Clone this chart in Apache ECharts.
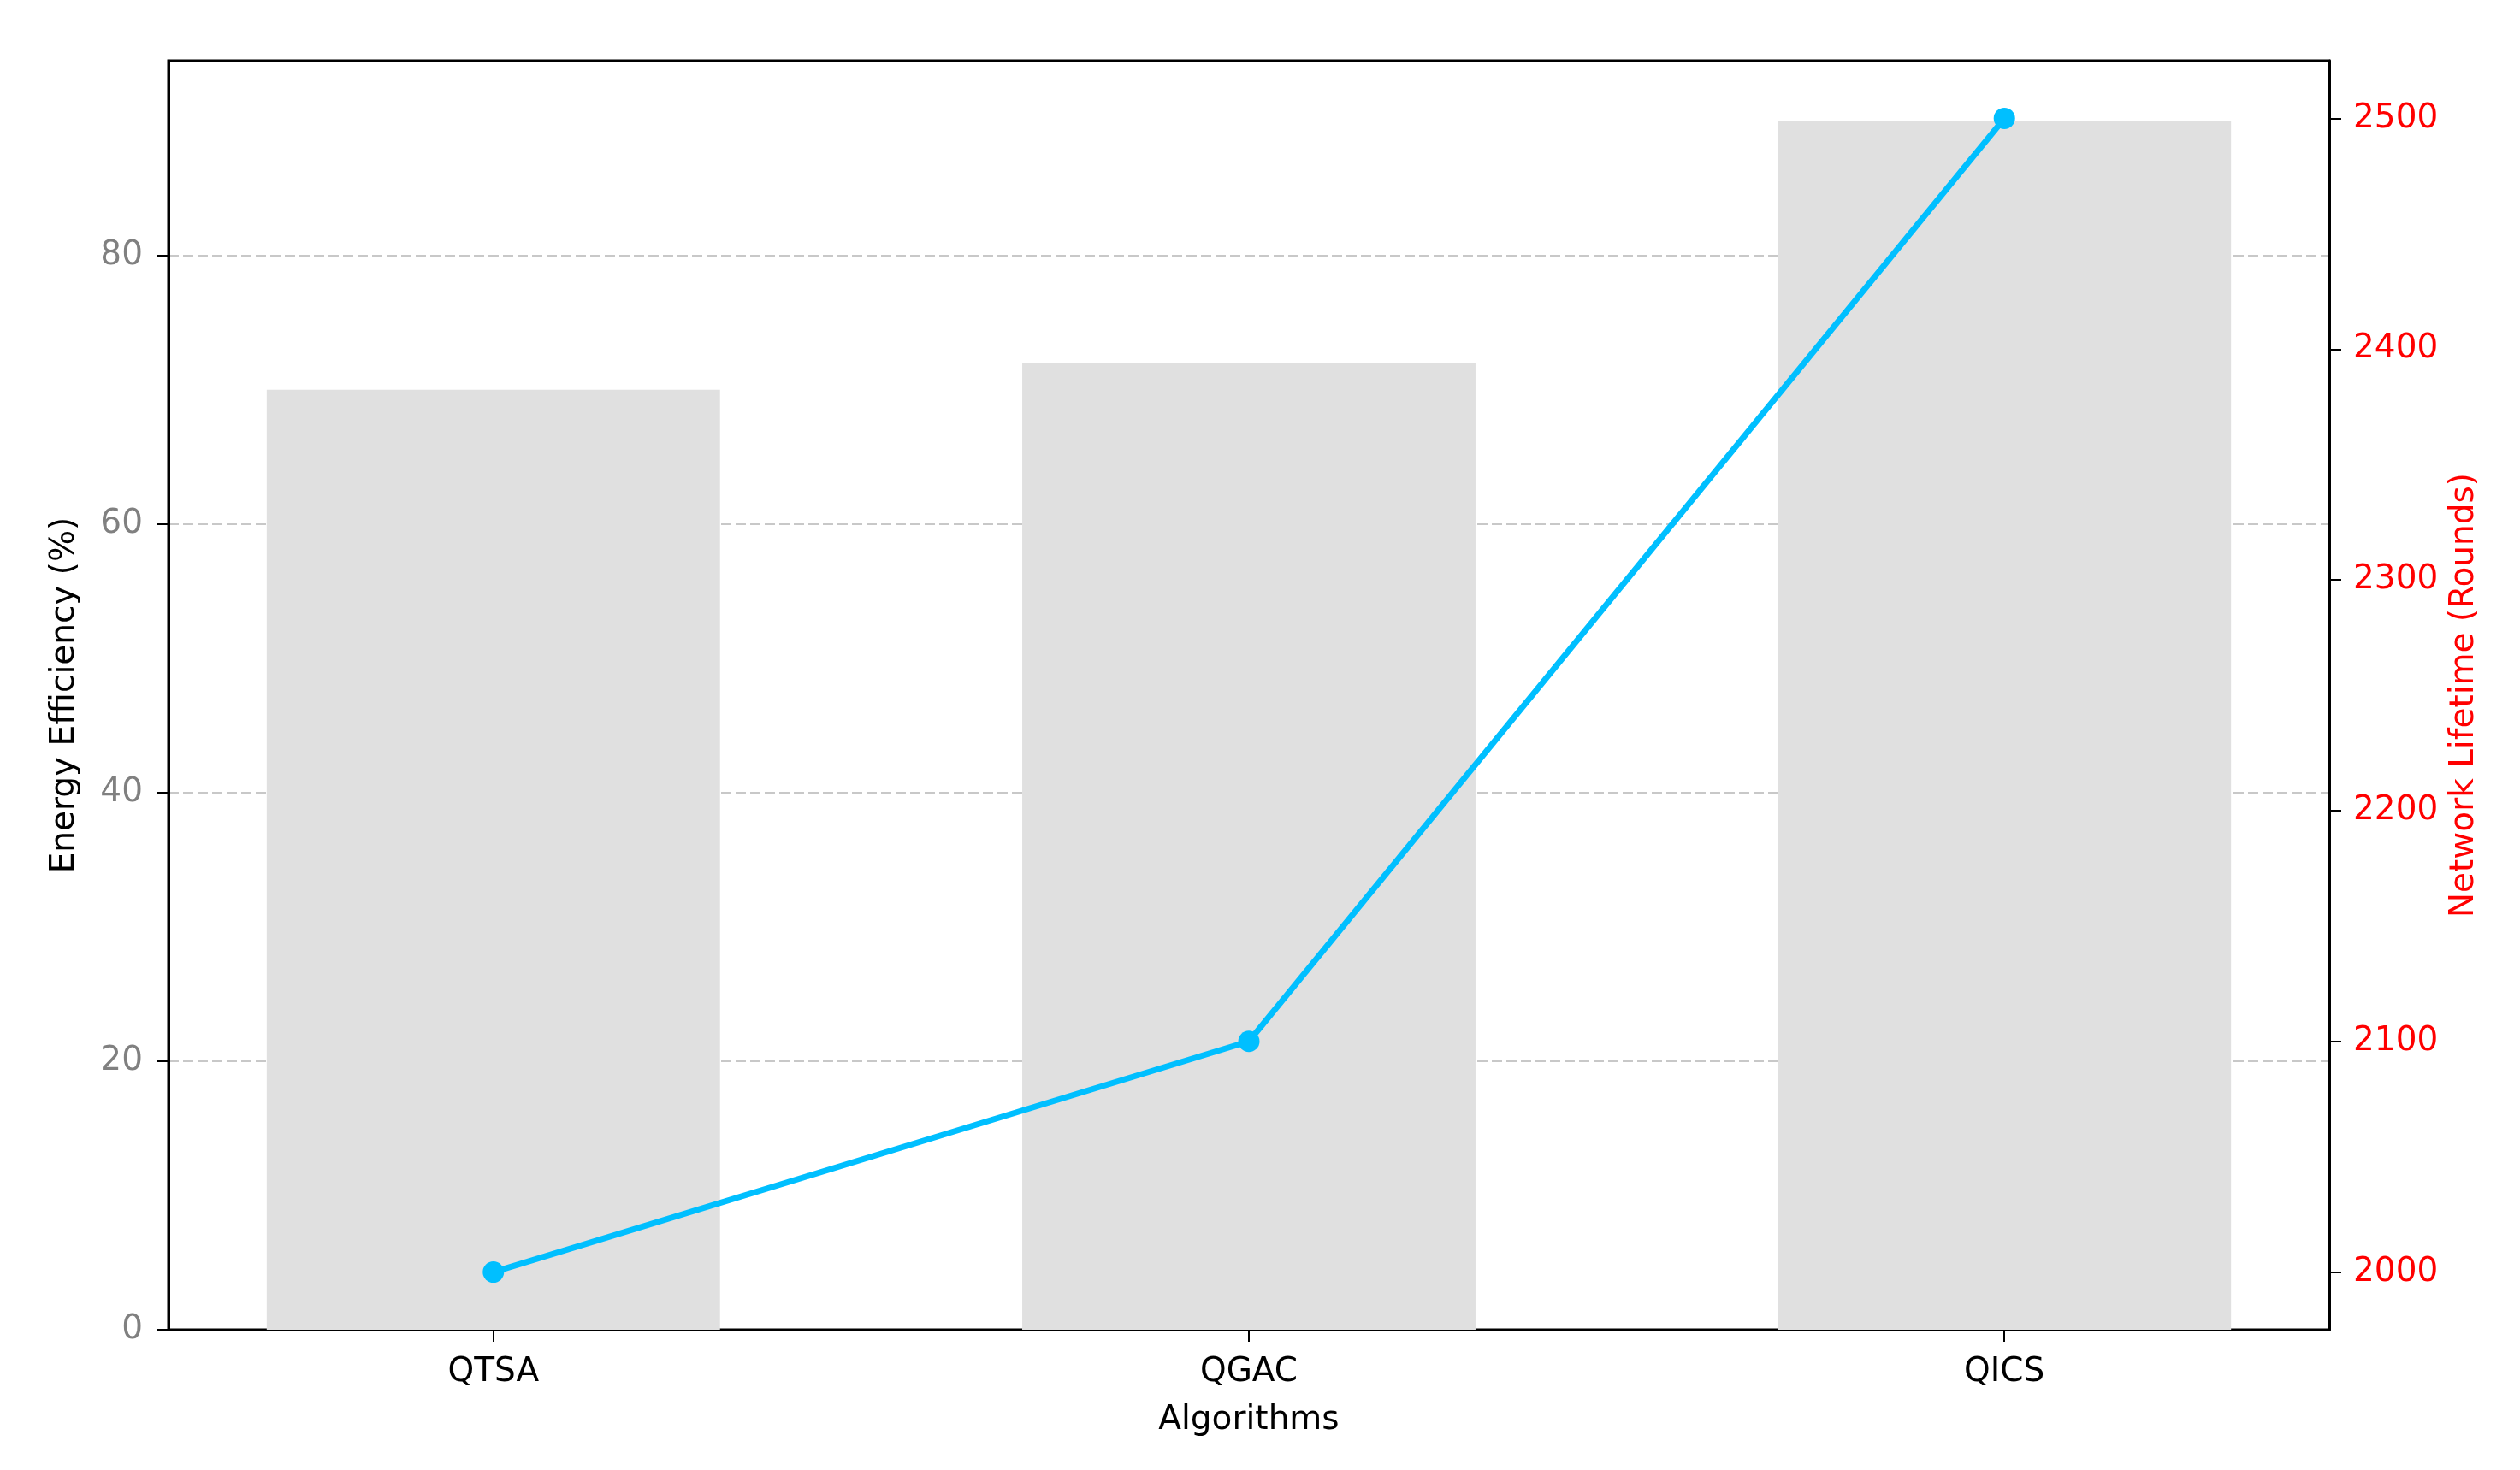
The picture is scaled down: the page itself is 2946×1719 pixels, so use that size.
<!DOCTYPE html>
<html>
<head>
<meta charset="utf-8">
<script src="https://cdn.jsdelivr.net/npm/echarts@6/dist/echarts.min.js"></script>
<style>
  html, body { margin: 0; padding: 0; background: #fff; }
  #main { width: 2946px; height: 1719px; }
</style>
</head>
<body>
<div id="main"></div>
<script>
// data
var algorithms = ['QTSA', 'QGAC', 'QICS'];
var efficiency = [70, 72, 90];          // Energy Efficiency (%)
var lifetime = [2000, 2100, 2500];      // Network Lifetime (Rounds)
var effTicks = [0, 20, 40, 60, 80];
var lifeTicks = [2000, 2100, 2200, 2300, 2400, 2500];

var W = 2946, H = 1719;
var gridLeft = 197, gridRight = 223, gridTop = 71, gridBottom = 164;
var xMin = -0.43, xMax = 2.43;
var unitPx = (W - gridLeft - gridRight) / (xMax - xMin);

var font = 'DejaVu Sans';
var fs = 39;

var myChart = echarts.init(document.getElementById('main'), null, { renderer: 'canvas' });

myChart.setOption({
  animation: false,
  backgroundColor: '#fff',
  grid: {
    left: gridLeft, right: gridRight, top: gridTop, bottom: gridBottom,
    show: true, borderColor: '#000', borderWidth: 3, backgroundColor: 'transparent'
  },
  xAxis: {
    type: 'value',
    min: xMin, max: xMax,
    name: 'Algorithms',
    nameLocation: 'middle',
    nameGap: 86,
    nameTextStyle: { fontFamily: font, fontSize: fs, color: '#000' },
    axisLine: { show: true, onZero: false, lineStyle: { color: '#000', width: 3 } },
    axisTick: { show: true, length: 14, lineStyle: { color: '#000', width: 2 }, customValues: [0, 1, 2] },
    axisLabel: {
      margin: 30, fontFamily: font, fontSize: fs, color: '#000',
      customValues: [0, 1, 2],
      formatter: function (v) { return algorithms[Math.round(v)]; }
    },
    splitLine: { show: false }
  },
  yAxis: [{
    type: 'value',
    min: 0, max: 94.5, interval: 20,
    name: 'Energy Efficiency (%)',
    nameLocation: 'middle',
    nameGap: 102,
    nameTextStyle: { fontFamily: font, fontSize: fs, color: '#000' },
    axisLine: { show: true, onZero: false, lineStyle: { color: '#000', width: 3 } },
    axisTick: { show: true, length: 14, lineStyle: { color: '#000', width: 2 }, customValues: effTicks },
    axisLabel: {
      margin: 30, fontFamily: font, fontSize: fs, color: '#808080', customValues: effTicks,
      formatter: function (v) { return String(v); }
    },
    splitLine: { show: true, lineStyle: { color: '#c8c8c8', width: 2, type: [12, 5] } }
  }, {
    type: 'value',
    min: 1975, max: 2525,
    position: 'right',
    name: 'Network Lifetime (Rounds)',
    nameLocation: 'middle',
    nameGap: 136,
    nameTextStyle: { fontFamily: font, fontSize: fs, color: '#ff0000' },
    axisLine: { show: true, onZero: false, lineStyle: { color: '#000', width: 3 } },
    axisTick: { show: true, length: 14, lineStyle: { color: '#000', width: 2 }, customValues: lifeTicks },
    axisLabel: {
      margin: 28, fontFamily: font, fontSize: fs, color: '#ff0000', customValues: lifeTicks,
      formatter: function (v) { return String(v); }
    },
    splitLine: { show: false }
  }],
  series: [{
    name: 'Energy Efficiency',
    type: 'bar',
    yAxisIndex: 0,
    barWidth: 0.6 * unitPx,
    itemStyle: { color: '#e0e0e0' },
    data: efficiency.map(function (v, i) { return [i, v]; }),
    z: 1
  }, {
    name: 'Network Lifetime',
    type: 'line',
    yAxisIndex: 1,
    symbol: 'circle',
    symbolSize: 25,
    lineStyle: { color: '#00bfff', width: 7 },
    itemStyle: { color: '#00bfff' },
    data: lifetime.map(function (v, i) { return [i, v]; }),
    z: 3
  }]
});
</script>
</body>
</html>
